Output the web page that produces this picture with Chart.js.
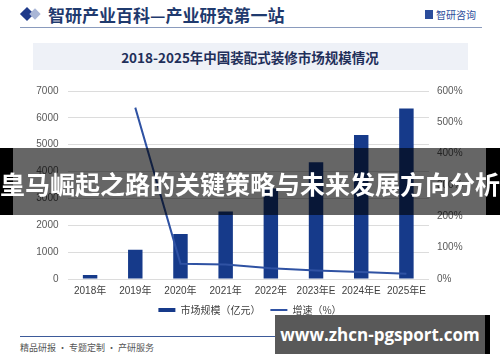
<!DOCTYPE html>
<html>
<head>
<meta charset="utf-8">
<script src="https://cdn.jsdelivr.net/npm/chart.js@4.4.0/dist/chart.umd.min.js"></script>
<style>
  body { margin:0; width:500px; height:362px; background:#fff; position:relative; overflow:hidden;
         font-family:"Noto Sans CJK SC", sans-serif; }
  .abs { position:absolute; }
  #hdr { left:48px; top:2px; font-size:17px; font-weight:bold; color:#1f3a6e; white-space:nowrap; }
  #d1 { left:22px; top:9px; width:10px; height:10px; background:#1f3a8a; transform:rotate(45deg); }
  #d2 { left:31px; top:10px; width:8px; height:8px; background:#a9b6d6; transform:rotate(45deg); }
  #hline { left:20px; top:27px; width:462px; height:1px; background:#8a9bbd; }
  #logo { left:425px; top:10px; width:8px; height:9px; background:#2b4c9b; }
  #logotxt { left:436px; top:7px; font-size:10px; color:#2b4c9b; white-space:nowrap; }
  #tbox { left:33px; top:43px; width:435px; height:27px; background:#eef1f7; }
  #title { left:0; top:47px; width:500px; text-align:center; font-size:13.5px; font-weight:bold; color:#1f2f5a; }
  #wrap { left:0; top:76px; width:500px; height:249px; }
  #fline { left:20px; top:336px; width:460px; height:1px; background:#3d5a99; }
  #ftxt { left:20px; top:341px; font-size:9px; color:#555; white-space:nowrap; }
  #furl { left:436px; top:344px; font-size:7px; color:#777; white-space:nowrap; }
  #banner { left:0; top:148px; width:500px; height:67px; background:rgba(0,0,0,0.6); }
  #bl { left:0; top:148px; width:13px; height:67px; background:#000; }
  #br { left:486px; top:148px; width:14px; height:67px; background:#000; }
  #btxt { left:0; top:168px; width:500px; text-align:center; font-size:25px; font-weight:bold; color:#fff;
          white-space:nowrap; line-height:30px; }
  #wm { left:275px; top:315px; width:210px; height:39px; background:#595959; }
  #wmb { left:485px; top:315px; width:5px; height:39px; background:#000; }
  #wmt { left:275px; top:322px; width:210px; text-align:center; font-family:"Open Sans", sans-serif;
         font-size:17px; font-weight:bold; color:#fff; line-height:26px; white-space:nowrap; }
</style>
</head>
<body>
<div class="abs" id="d1"></div><div class="abs" id="d2"></div>
<div class="abs" id="hdr">智研产业百科—产业研究第一站</div>
<div class="abs" id="logo"></div>
<div class="abs" id="logotxt">智研咨询</div>
<div class="abs" id="hline"></div>
<div class="abs" id="tbox"></div>
<div class="abs" id="title">2018-2025年中国装配式装修市场规模情况</div>
<div class="abs" id="wrap"><canvas id="c"></canvas></div>
<div class="abs" id="fline"></div>
<div class="abs" id="ftxt">精品研报 · 专题定制 · 产研服务</div>
<div class="abs" id="furl">www.chyxx.com</div>
<div class="abs" id="banner"></div><div class="abs" id="bl"></div><div class="abs" id="br"></div>
<div class="abs" id="btxt">皇马崛起之路的关键策略与未来发展方向分析</div>
<div class="abs" id="wm"></div><div class="abs" id="wmb"></div>
<div class="abs" id="wmt">www.zhcn-pgsport.com</div>

<script>
var years = ['2018年', '2019年', '2020年', '2021年', '2022年', '2023年E', '2024年E', '2025年E'];
var marketSize = [150, 1090, 1675, 2517, 3370, 4350, 5365, 6345];   // 亿元
var growth = [null, 547, 49, 46, 34, 27, 22, 17];                    // %

var tickFont = { family: "'Liberation Sans', 'Noto Sans CJK SC', sans-serif", size: 10 };

var ctx = document.getElementById('c');
var chart = new Chart(ctx, {
	data: {
		labels: years,
		datasets: [
			{
				type: 'line',
				label: '增速（%）',
				data: growth,
				yAxisID: 'y1',
				borderColor: '#2f52a3',
				backgroundColor: '#2f52a3',
				borderWidth: 2,
				pointRadius: 0,
				tension: 0,
				order: 0
			},
			{
				type: 'bar',
				label: '市场规模（亿元）',
				data: marketSize,
				yAxisID: 'y',
				backgroundColor: '#163a8a',
				barPercentage: 0.64,
				categoryPercentage: 0.5,
				order: 1
			}
		]
	},
	options: {
		responsive: true,
		maintainAspectRatio: false,
		animation: false,
		layout: { padding: { top: 4, right: 0, left: 0, bottom: 0 } },
		plugins: {
			tooltip: { enabled: false },
			legend: {
				position: 'bottom',
				reverse: true,
				labels: {
					color: '#404040',
					font: { family: "'Noto Sans CJK SC', sans-serif", size: 10 },
					usePointStyle: true,
					pointStyleWidth: 17,
					boxWidth: 17,
					boxHeight: 6,
					padding: 10,
					generateLabels: function(chart) {
						return chart.data.datasets.map(function(ds, i) {
							return {
								text: ds.label,
								pointStyle: 'line',
								strokeStyle: ds.type === 'bar' ? '#163a8a' : '#2f52a3',
								fillStyle: ds.type === 'bar' ? '#163a8a' : '#2f52a3',
								lineWidth: ds.type === 'bar' ? 4 : 2,
								fontColor: '#404040',
								datasetIndex: i
							};
						});
					}
				}
			}
		},
		scales: {
			x: {
				grid: { display: false, drawTicks: false },
				border: { display: false },
				ticks: { color: '#404040', font: tickFont, padding: 6, maxRotation: 0 },
				afterFit: function(s) { s.height = 16; }
			},
			y: {
				position: 'left',
				min: 0, max: 7000,
				ticks: { stepSize: 1000, color: '#595959', font: tickFont, padding: 9,
					callback: function(v) { return String(v); } },
				grid: { color: '#dcdcdc', drawTicks: false },
				border: { display: false },
				afterFit: function(s) { s.width = 67.5; }
			},
			y1: {
				position: 'right',
				min: 0, max: 600,
				ticks: { stepSize: 100, color: '#595959', font: tickFont, padding: 8,
					callback: function(v) { return v + '%'; } },
				grid: { display: false, drawTicks: false },
				border: { display: false },
				afterFit: function(s) { s.width = 71; }
			}
		}
	}
});
</script>
</body>
</html>
